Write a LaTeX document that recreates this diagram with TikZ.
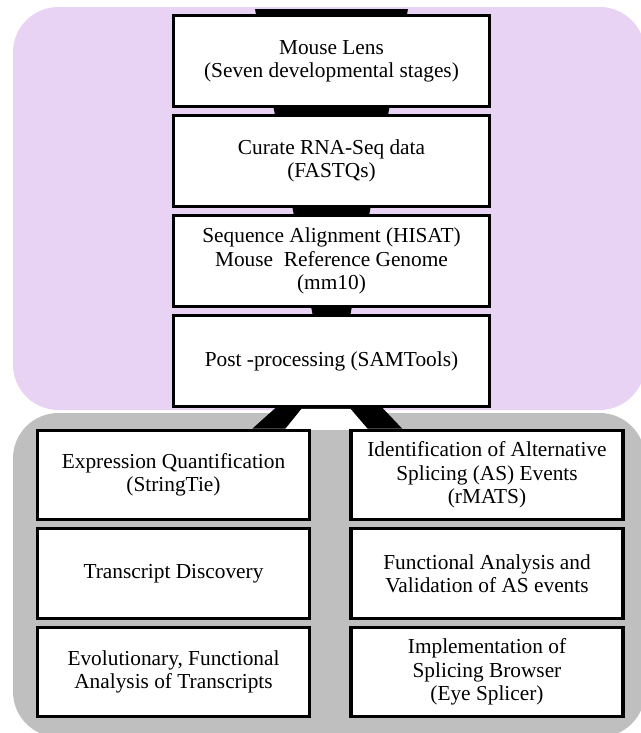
\documentclass[tikz,border=0pt]{standalone}
\usepackage{fontspec}
\setmainfont{Liberation Serif}
\usetikzlibrary{calc,backgrounds}
\definecolor{lensbg}{RGB}{233,211,245}
\definecolor{splicebg}{RGB}{191,191,191}
\tikzset{
  stage/.style={draw=black, line width=2.4pt, fill=white, align=center,
    minimum width=237pt, minimum height=68pt, inner sep=2pt,
    font=\fontsize{16pt}{17.5pt}\selectfont},
  task/.style={stage, minimum width=204pt, minimum height=67pt}
}
\begin{document}
\begin{tikzpicture}[x=0.75pt,y=-0.75pt]
  \useasboundingbox (0,0) rectangle (641,733);
  \node[stage] (lens) at (331.5,61) {Mouse Lens\\(Seven developmental stages)};
  \node[stage] (curate) at (331.5,161) {Curate RNA-Seq data\\(FASTQs)};
  \node[stage] (align) at (331.5,261) {Sequence Alignment (HISAT)\\Mouse~ Reference Genome\\(mm10)};
  \node[stage] (post) at (331.5,361) {Post -processing (SAMTools)};
  \node[task] (quant) at (173.5,475) {Expression Quantification\\(StringTie)};
  \node[task] (disc) at (173.5,573.5) {Transcript Discovery};
  \node[task] (evol) at (173.5,672) {Evolutionary, Functional\\Analysis of Transcripts};
  \node[task] (rmats) at (487,475) {Identification of Alternative\\Splicing (AS) Events\\(rMATS)};
  \node[task] (valid) at (487,573.5) {Functional Analysis and\\Validation of AS events};
  \node[task] (browser) at (487,672) {Implementation of\\Splicing Browser\\(Eye Splicer)};
  \begin{scope}[on background layer]
    \fill[lensbg, rounded corners=34pt] (13,7) rectangle (645,410);
    \fill[splicebg, rounded corners=34pt] (13,413) rectangle (645,737);
    \fill (lens.north) ++(-76.5,-5) -- ++(153,0) -- ($(post.north)+(19,0)$) -- ($(post.north)+(-19,0)$) -- cycle;
    \fill ($(post.south)+(-56,0)$) -- ($(post.south)+(51,0)$) -- ($(quant.north)!0.5!(rmats.north)+(72,0)$) -- ($(quant.north)!0.5!(rmats.north)+(-78,0)$) -- cycle;
    \fill[white] ($(post.south)+(-30,1)$) -- ($(post.south)+(19,1)$) -- ($(post.south)+(37,22)$) -- ($(post.south)+(-47,22)$) -- cycle;
  \end{scope}
\end{tikzpicture}
\end{document}
